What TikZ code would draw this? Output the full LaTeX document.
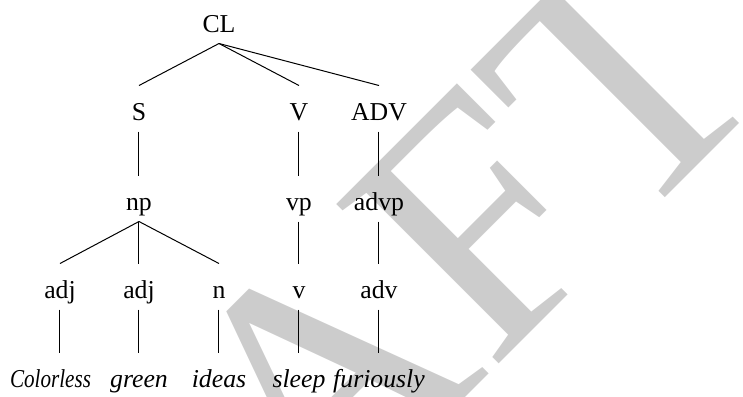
\documentclass[tikz,border=0pt]{standalone}
\newif\ifpalladio
\IfFileExists{pplr8t.tfm}{\IfFileExists{uplr8a.pfb}{\IfFileExists{pplri8t.tfm}{\palladiotrue}{}}{}}{}
\ifpalladio
  \usepackage[T1]{fontenc}
  \renewcommand{\rmdefault}{ppl}
\else
  \usepackage{fontspec}
  \setmainfont{Liberation Serif}
\fi
\begin{document}
\begin{tikzpicture}[x=0.4pt,y=-0.4pt,
  lbl/.style={inner sep=0pt, anchor=base, text height=13.6pt, text depth=4.4pt,
    font=\fontsize{10.3}{12}\selectfont},
  word/.style={lbl, font=\fontsize{10.3}{12}\selectfont\itshape},
  branch/.style={draw=black, line width=0.4pt}]
\useasboundingbox (0,0) rectangle (743,396);
\clip (0,0) rectangle (743,396);

% draft watermark behind the tree
\node[rotate=45, anchor=base, text=black!20, inner sep=0pt,
  font=\fontsize{139}{139}\selectfont] (mark) at (375,488) {DRAFT};

% tree labels
\node[lbl] (cl)   at (219,32)  {CL};
\node[lbl] (s)    at (139,120) {S};
\node[lbl] (vv)   at (299,120) {V};
\node[lbl] (adv)  at (379,120) {ADV};
\node[lbl] (np)   at (139,210) {np};
\node[lbl] (vp)   at (299,210) {vp};
\node[lbl] (advp) at (379,210) {advp};
\node[lbl] (adja) at (60,298)  {adj};
\node[lbl] (adjb) at (139,298) {adj};
\node[lbl] (nn)   at (219,298) {n};
\node[lbl] (vl)   at (299,298) {v};
\node[lbl] (advl) at (379,298) {adv};

% words
\node[word] (w1) at (50.5,387) {\scalebox{0.82}[1]{Colorless}};
\node[word] (w2) at (139,387)  {green};
\node[word] (w3) at (219,387)  {ideas};
\node[word] (w4) at (299,387)  {sleep};
\node[word] (w5) at (379,387)  {furiously};

% branches
\path[branch] (cl.south) -- (s.north);
\path[branch] (cl.south) -- (vv.north);
\path[branch] (cl.south) -- (adv.north);
\path[branch] (s.south) -- (np.north);
\path[branch] (vv.south) -- (vp.north);
\path[branch] (adv.south) -- (advp.north);
\path[branch] (np.south) -- (adja.north);
\path[branch] (np.south) -- (adjb.north);
\path[branch] (np.south) -- (nn.north);
\path[branch] (vp.south) -- (vl.north);
\path[branch] (advp.south) -- (advl.north);
\path[branch] (adja.south) -- (adja.south |- w1.north);
\path[branch] (adjb.south) -- (w2.north);
\path[branch] (nn.south) -- (w3.north);
\path[branch] (vl.south) -- (w4.north);
\path[branch] (advl.south) -- (w5.north);
\end{tikzpicture}
\end{document}
